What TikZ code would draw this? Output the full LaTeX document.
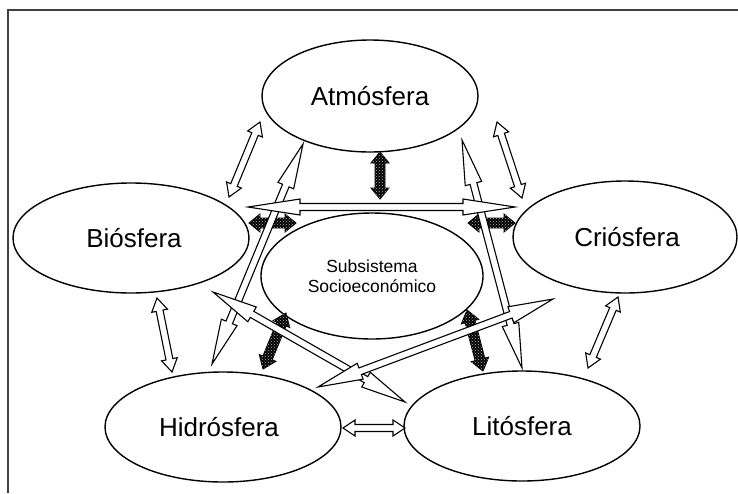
\documentclass[tikz,border=0pt]{standalone}
\usepackage{fontspec}
\setmainfont{Liberation Sans}
\usetikzlibrary{shapes.geometric,patterns,calc}

% double-headed block arrow: #1 style, #2 from, #3 to, #4 shaft half width, #5 head half width, #6 head length
\newcommand\dblarrow[6]{%
  \draw[#1] let \p1=(#2), \p2=(#3), \n1={atan2(\y2-\y1,\x2-\x1)} in
    (\p1)
    -- ($(\p1)+(\n1:#6)+({\n1+90}:#5)$)
    -- ($(\p1)+(\n1:#6)+({\n1+90}:#4)$)
    -- ($(\p2)+({\n1+180}:#6)+({\n1+90}:#4)$)
    -- ($(\p2)+({\n1+180}:#6)+({\n1+90}:#5)$)
    -- (\p2)
    -- ($(\p2)+({\n1+180}:#6)+({\n1-90}:#5)$)
    -- ($(\p2)+({\n1+180}:#6)+({\n1-90}:#4)$)
    -- ($(\p1)+(\n1:#6)+({\n1-90}:#4)$)
    -- ($(\p1)+(\n1:#6)+({\n1-90}:#5)$)
    -- cycle;}

\tikzset{
  sphere/.style={draw, ellipse, line width=1.4pt, inner sep=0pt, fill=white,
    font=\fontsize{26}{30}\selectfont},
  wharrow/.style={draw, fill=white, line width=1.1pt},
  dkarrow/.style={draw, fill=black, line width=0.9pt,
    postaction={pattern=crosshatch dots, pattern color=white!70!black}},
  frameline/.style={draw=black!75, line width=1.5pt},
}

\begin{document}
\begin{tikzpicture}[x=1pt, y=-1pt]
\useasboundingbox (0,0) rectangle (738,493);
\fill[white] (0,0) rectangle (738,493);
\draw[frameline] (8,493) -- (8,10) -- (738,10);

% spheres
\node[sphere, minimum width=216pt, minimum height=112pt] (atm) at (370,96) {Atmósfera};
\node[sphere, minimum width=236pt, minimum height=110pt] (bio) at (131,238) {\hspace*{6pt}Biósfera};
\node[sphere, minimum width=224pt, minimum height=112pt] (cri) at (625,237) {\hspace*{4pt}Criósfera};
\node[sphere, minimum width=222pt, minimum height=126pt, align=center,
      font=\fontsize{17.5}{20}\selectfont] (soc) at (372,276) {Subsistema\\Socioeconómico};
\node[sphere, minimum width=236pt, minimum height=110pt] (hid) at (223,427) {Hidrósfera\hspace*{8pt}};
\node[sphere, minimum width=236pt, minimum height=110pt] (lit) at (522,426) {Litósfera};

% connector end points
\coordinate (ab1) at (260,122); \coordinate (ab2) at (229,197);
\coordinate (ac1) at (497,122); \coordinate (ac2) at (522,198);
\coordinate (bh1) at (157,298); \coordinate (bh2) at (172,372);
\coordinate (cl1) at (618,297); \coordinate (cl2) at (588,368);
\coordinate (hl1) at (343,428); \coordinate (hl2) at (405,428);

\coordinate (as1) at (380,152); \coordinate (as2) at (380,199);
\coordinate (bs1) at (249,223); \coordinate (bs2) at (296,223);
\coordinate (sc1) at (468,223); \coordinate (sc2) at (515,223);
\coordinate (sh1) at (286,313); \coordinate (sh2) at (263,369);
\coordinate (sl1) at (467,310); \coordinate (sl2) at (483,371);

\coordinate (bc1) at (248,207); \coordinate (bc2) at (515,207);
\coordinate (ah1) at (303,144); \coordinate (ah2) at (212,364);
\coordinate (al1) at (462,140); \coordinate (al2) at (522,368);
\coordinate (bl1) at (213,292); \coordinate (bl2) at (405,402);
\coordinate (hc1) at (318,387); \coordinate (hc2) at (553,299);

% short white arrows
\dblarrow{wharrow}{ab1}{ab2}{3.5pt}{8pt}{13pt}
\dblarrow{wharrow}{ac1}{ac2}{3.5pt}{8pt}{13pt}
\dblarrow{wharrow}{bh1}{bh2}{3.5pt}{8pt}{13pt}
\dblarrow{wharrow}{cl1}{cl2}{3.5pt}{8pt}{13pt}
\dblarrow{wharrow}{hl1}{hl2}{3.5pt}{8pt}{12pt}

% dark arrows
\dblarrow{dkarrow}{as1}{as2}{5pt}{9pt}{11pt}
\dblarrow{dkarrow}{bs1}{bs2}{5pt}{9pt}{11pt}
\dblarrow{dkarrow}{sc1}{sc2}{5pt}{9pt}{11pt}
\dblarrow{dkarrow}{sh1}{sh2}{5pt}{9pt}{12pt}
\dblarrow{dkarrow}{sl1}{sl2}{5pt}{9pt}{12pt}

% long thin arrows
\dblarrow{wharrow}{ah1}{ah2}{3.5pt}{8.5pt}{45pt}
\dblarrow{wharrow}{al1}{al2}{3.5pt}{8.5pt}{45pt}
\dblarrow{wharrow}{bc1}{bc2}{3.5pt}{8pt}{52pt}
\dblarrow{wharrow}{bl1}{bl2}{3.5pt}{8.5pt}{45pt}
\dblarrow{wharrow}{hc1}{hc2}{3.5pt}{8.5pt}{45pt}
\end{tikzpicture}
\end{document}
